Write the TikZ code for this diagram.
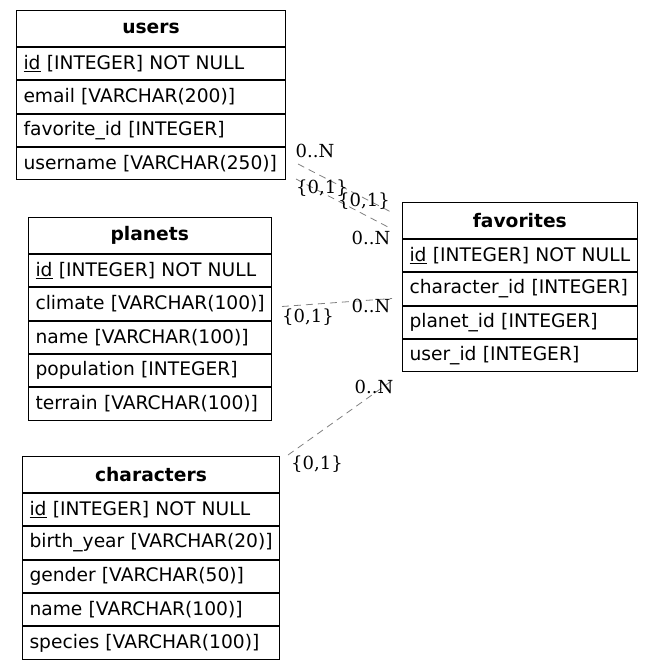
\documentclass[tikz,border=0pt]{standalone}
\usepackage{fontspec}
\newfontfamily\tabfont{DejaVu Sans}
\newfontfamily\relfont{DejaVu Serif}
\usetikzlibrary{positioning}
\tikzset{
	tabhead/.style={draw, line width=1pt, text width=#1, align=center, inner xsep=7pt, inner ysep=0pt,
		minimum height=36pt, anchor=north west, font=\tabfont\bfseries\fontsize{18.67}{22}\selectfont},
	tabrow/.style={draw, line width=1pt, text width=#1, align=left, inner xsep=7pt, inner ysep=0pt,
		minimum height=32.3pt, font=\tabfont\fontsize{18.67}{22}\selectfont},
	rel/.style={draw=gray, line width=0.8pt, dash pattern=on 7pt off 5pt},
	card/.style={font=\relfont\fontsize{18}{20}\selectfont, inner sep=0pt},
}
\newcommand{\pk}{\underline{id}}

\begin{document}
\begin{tikzpicture}[x=1pt, y=-1pt]
			\useasboundingbox (0,0) rectangle (653,670);
			% tables
			\node[tabhead=255pt] (users-0) at (16,10) {users};
			\foreach \f [count=\i, remember=\i as \j (initially 0)] in {{\pk{} [INTEGER] NOT NULL}, {email [VARCHAR(200)]}, {favorite\_id [INTEGER]}, {username [VARCHAR(250)]}} {
					\node[tabrow=255pt, below=0pt of users-\j] (users-\i) {\mbox{\f}};
				}
			\node[tabhead=228.5pt] (planets-0) at (28,217) {planets};
			\foreach \f [count=\i, remember=\i as \j (initially 0)] in {{\pk{} [INTEGER] NOT NULL}, {climate [VARCHAR(100)]}, {name [VARCHAR(100)]}, {population [INTEGER]}, {terrain [VARCHAR(100)]}} {
					\node[tabrow=228.5pt, below=0pt of planets-\j] (planets-\i) {\mbox{\f}};
				}
			\node[tabhead=243pt] (characters-0) at (22,456) {characters};
			\foreach \f [count=\i, remember=\i as \j (initially 0)] in {{\pk{} [INTEGER] NOT NULL}, {birth\_year [VARCHAR(20)]}, {gender [VARCHAR(50)]}, {name [VARCHAR(100)]}, {species [VARCHAR(100)]}} {
					\node[tabrow=243pt, below=0pt of characters-\j] (characters-\i) {\mbox{\f}};
				}
			\node[tabhead=220.6pt] (favorites-0) at (402,202) {favorites};
			\foreach \f [count=\i, remember=\i as \j (initially 0)] in {{\pk{} [INTEGER] NOT NULL}, {character\_id [INTEGER]}, {planet\_id [INTEGER]}, {user\_id [INTEGER]}} {
					\node[tabrow=220.6pt, below=0pt of favorites-\j] (favorites-\i) {\mbox{\f}};
				}
			% relations
			\coordinate (ufa-s) at (298,164);
			\coordinate (ufa-e) at (391,212);
			\coordinate (ufb-s) at (296,179);
			\coordinate (ufb-e) at (388,227);
			\coordinate (pf-s) at (282,306.5);
			\coordinate (pf-e) at (392,298.5);
			\coordinate (cf-s) at (288,455);
			\coordinate (cf-e) at (395,378.5);
			\draw[rel] (ufa-s) -- (ufa-e);
			\draw[rel] (ufb-s) -- (ufb-e);
			\draw[rel] (pf-s) -- (pf-e);
			\draw[rel] (cf-s) -- (cf-e);
			\node[card] (ufa-m) at (315,151) {0..N};
			\node[card] (ufa-o) at (364,201) {\{0,1\}};
			\node[card] (ufb-o) at (322,188) {\{0,1\}};
			\node[card] (ufb-m) at (371,238) {0..N};
			\node[card] (pf-o) at (308,317) {\{0,1\}};
			\node[card] (pf-m) at (371,306) {0..N};
			\node[card] (cf-m) at (374,387) {0..N};
			\node[card] (cf-o) at (317,464) {\{0,1\}};
		\end{tikzpicture}
\end{document}
